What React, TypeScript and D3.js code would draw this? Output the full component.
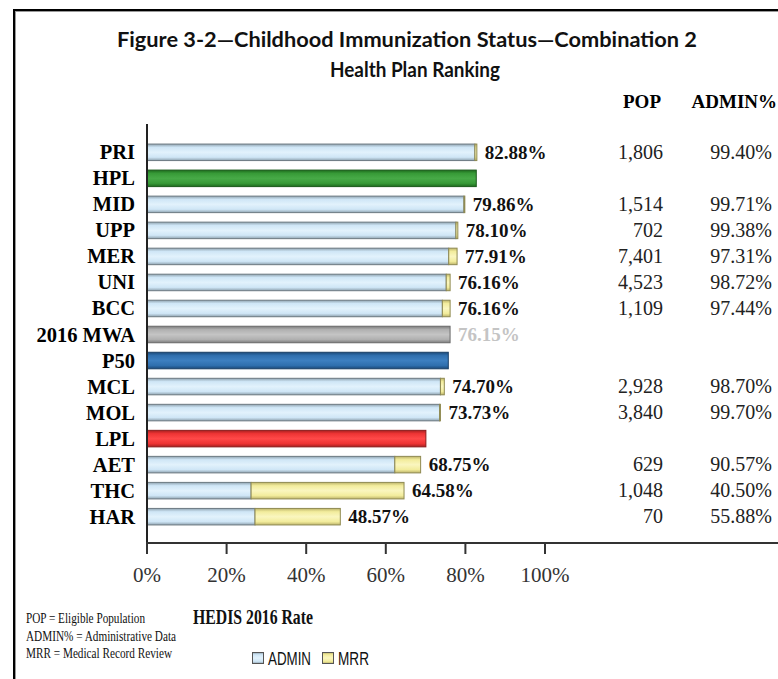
import React from "react";
import * as d3 from "d3";

const categories = ["PRI", "HPL", "MID", "UPP", "MER", "UNI", "BCC", "2016 MWA", "P50", "MCL", "MOL", "LPL", "AET", "THC", "HAR"];
const rates = [82.88, 82.73, 79.86, 78.10, 77.91, 76.16, 76.16, 76.15, 75.70, 74.70, 73.73, 70.07, 68.75, 64.58, 48.57];
const adminPct = [99.40, null, 99.71, 99.38, 97.31, 98.72, 97.44, null, null, 98.70, 99.70, null, 90.57, 40.50, 55.88];
const pops = ["1,806", "", "1,514", "702", "7,401", "4,523", "1,109", "", "", "2,928", "3,840", "", "629", "1,048", "70"];
const valueLabels = ["82.88%", "", "79.86%", "78.10%", "77.91%", "76.16%", "76.16%", "76.15%", "", "74.70%", "73.73%", "", "68.75%", "64.58%", "48.57%"];
const adminLabels = ["99.40%", "", "99.71%", "99.38%", "97.31%", "98.72%", "97.44%", "", "", "98.70%", "99.70%", "", "90.57%", "40.50%", "55.88%"];
const xTicks = [0, 20, 40, 60, 80, 100];
const special: Record<string, string> = { HPL: "green", "2016 MWA": "gray", P50: "blue", LPL: "red" };

const grads: Record<string, [string, string, string]> = {
  admin: ["#8fa3b0", "#cfe6f6", "#e2f2fc"],
  mrr: ["#bdb46a", "#f2ec9c", "#faf6bf"],
  green: ["#1d6a1d", "#379a37", "#47aa47"],
  gray: ["#7c7c7c", "#b0b0b0", "#c4c4c4"],
  blue: ["#1b4a7a", "#2f6fae", "#3d7fc0"],
  red: ["#a82020", "#ee3434", "#ff4848"],
};
const strokes: Record<string, string> = {
  admin: "#6d7a82", mrr: "#8f8a52", green: "#1a5a1a", gray: "#6a6a6a", blue: "#183e66", red: "#8a1a1a",
};

export default function App() {
  const W = 778, H = 679;
  const x = d3.scaleLinear().domain([0, 100]).range([147, 545]);
  const p = 0.365;
  const y = d3.scaleBand<string>().domain(categories).range([139.3, 529.7]).paddingInner(p).paddingOuter(p / 2);
  const bh = y.bandwidth();
  const serif = "'Liberation Serif', 'Times New Roman', serif";

  return (
    <svg width={W} height={H} style={{ position: "absolute", left: 0, top: 0, background: "#fff" }}>
      <defs>
        {Object.entries(grads).map(([k, [e, m, c]]) => (
          <linearGradient key={k} id={"g-" + k} x1="0" y1="0" x2="0" y2="1">
            <stop offset="0" stopColor={e} />
            <stop offset="0.2" stopColor={m} />
            <stop offset="0.5" stopColor={c} />
            <stop offset="0.8" stopColor={m} />
            <stop offset="1" stopColor={e} />
          </linearGradient>
        ))}
      </defs>
      {/* frame */}
      <line x1={14} y1={10} x2={W} y2={10} stroke="#000" strokeWidth={2} />
      <line x1={14} y1={11.5} x2={W} y2={11.5} stroke="#999" strokeWidth={1} />
      <line x1={14} y1={9} x2={14} y2={H} stroke="#000" strokeWidth={2} />
      <line x1={15.5} y1={11} x2={15.5} y2={H} stroke="#999" strokeWidth={1} />

      {/* title */}
      <text x={407} y={47} textAnchor="middle" fontFamily="Lato, 'Open Sans', sans-serif" fontWeight="bold" fontSize={20} textLength={580} lengthAdjust="spacingAndGlyphs" fill="#111">
        Figure 3-2—Childhood Immunization Status—Combination 2
      </text>
      <text x={415} y={77} textAnchor="middle" fontFamily="Lato, 'Open Sans', sans-serif" fontWeight="bold" fontSize={20} textLength={170} lengthAdjust="spacingAndGlyphs" fill="#111">
        Health Plan Ranking
      </text>

      {/* column headers */}
      <text x={661} y={108} textAnchor="end" fontFamily={serif} fontWeight="bold" fontSize={19} fill="#000">POP</text>
      <text x={777} y={108} textAnchor="end" fontFamily={serif} fontWeight="bold" fontSize={19} fill="#000">ADMIN%</text>

      {/* bars */}
      {categories.map((c, i) => {
        const y0 = y(c)!;
        const total = rates[i];
        const sp = special[c];
        const label = valueLabels[i];
        const adm = sp ? 0 : total * (adminPct[i] as number) / 100;
        return (
          <g key={c}>
            {sp ? (
              <rect x={x(0)} y={y0} width={x(total) - x(0)} height={bh} fill={`url(#g-${sp})`} stroke={strokes[sp]} strokeWidth={1} />
            ) : (
              <>
                <rect x={x(0)} y={y0} width={x(adm) - x(0)} height={bh} fill="url(#g-admin)" stroke={strokes.admin} strokeWidth={1} />
                <rect x={x(adm)} y={y0} width={x(total) - x(adm)} height={bh} fill="url(#g-mrr)" stroke={strokes.mrr} strokeWidth={1} />
              </>
            )}
            <text x={135} y={y0 + bh / 2 + 7} textAnchor="end" fontFamily={serif} fontWeight="bold" fontSize={20.5} fill="#000">{c}</text>
            {label && (
              <text x={x(total) + 8} y={y0 + bh / 2 + 6.5} fontFamily={serif} fontWeight="bold" fontSize={19} fill={c === "2016 MWA" ? "#c4c4c4" : "#111"}>{label}</text>
            )}
            {pops[i] && (
              <text x={663} y={y0 + bh / 2 + 6.5} textAnchor="end" fontFamily={serif} fontSize={20} fill="#222">{pops[i]}</text>
            )}
            {adminLabels[i] && (
              <text x={772} y={y0 + bh / 2 + 6.5} textAnchor="end" fontFamily={serif} fontSize={20} fill="#222">{adminLabels[i]}</text>
            )}
          </g>
        );
      })}

      {/* axes */}
      <line x1={147} y1={124} x2={147} y2={554} stroke="#222" strokeWidth={2} />
      <line x1={146} y1={543} x2={W} y2={543} stroke="#333" strokeWidth={2} />
      {xTicks.map((t) => (
        <g key={t}>
          <line x1={x(t)} y1={543} x2={x(t)} y2={554} stroke="#333" strokeWidth={2} />
          <text x={x(t)} y={582} textAnchor="middle" fontFamily={serif} fontSize={21} fill="#333">{t}%</text>
        </g>
      ))}

      {/* footnotes */}
      <text x={26} y={623} fontFamily={serif} fontSize={15} textLength={119} lengthAdjust="spacingAndGlyphs" fill="#111">POP = Eligible Population</text>
      <text x={26} y={640.5} fontFamily={serif} fontSize={15} textLength={150} lengthAdjust="spacingAndGlyphs" fill="#111">ADMIN% = Administrative Data</text>
      <text x={26} y={657.5} fontFamily={serif} fontSize={15} textLength={146} lengthAdjust="spacingAndGlyphs" fill="#111">MRR = Medical Record Review</text>

      {/* axis title */}
      <text x={193} y={624} fontFamily={serif} fontWeight="bold" fontSize={22} textLength={120} lengthAdjust="spacingAndGlyphs" fill="#111">HEDIS 2016 Rate</text>

      {/* legend */}
      <rect x={252.5} y={652.5} width={11} height={11} fill="url(#g-admin)" stroke="#555" strokeWidth={1} />
      <text x={268} y={665} fontFamily="'Liberation Sans', Arial, sans-serif" fontSize={18} textLength={43} lengthAdjust="spacingAndGlyphs" fill="#111">ADMIN</text>
      <rect x={322.5} y={652.5} width={11} height={11} fill="url(#g-mrr)" stroke="#555" strokeWidth={1} />
      <text x={338} y={665} fontFamily="'Liberation Sans', Arial, sans-serif" fontSize={18} textLength={31} lengthAdjust="spacingAndGlyphs" fill="#111">MRR</text>
    </svg>
  );
}
